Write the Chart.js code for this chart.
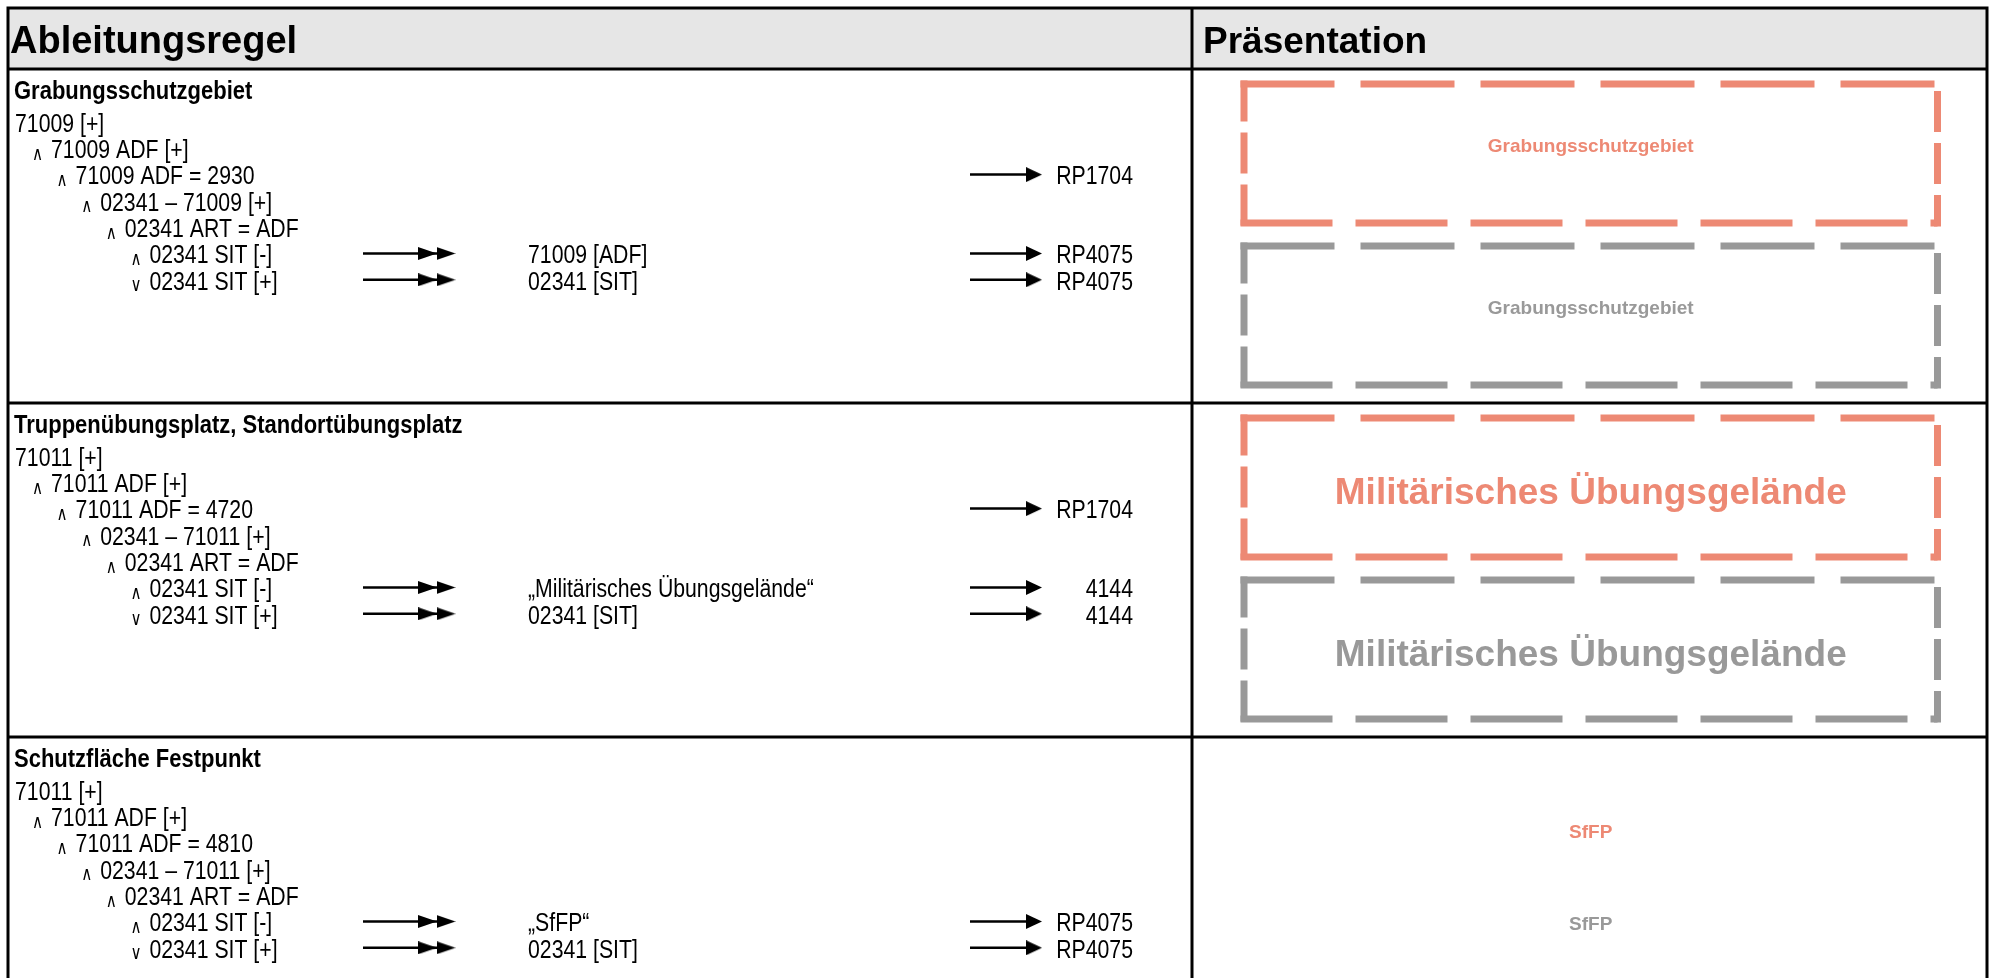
<!DOCTYPE html>
<html>
<head>
<meta charset="utf-8">
<script src="https://cdn.jsdelivr.net/npm/chart.js@4"></script>
<style>
  html, body { margin: 0; padding: 0; background: #fff; overflow: hidden; }
  canvas { display: block; }
</style>
</head>
<body>
<canvas id="ruleChart" width="1991" height="978"></canvas>
<script>
// --- data ---
const headers = ['Ableitungsregel', 'Präsentation'];
const sectionTitles = ['Grabungsschutzgebiet', 'Truppenübungsplatz, Standortübungsplatz', 'Schutzfläche Festpunkt'];
const ruleTexts = [
   ['71009 [+]', '71009 ADF [+]', '71009 ADF = 2930', '02341 – 71009 [+]', '02341 ART = ADF', '02341 SIT [-]', '02341 SIT [+]'],
   ['71011 [+]', '71011 ADF [+]', '71011 ADF = 4720', '02341 – 71011 [+]', '02341 ART = ADF', '02341 SIT [-]', '02341 SIT [+]'],
   ['71011 [+]', '71011 ADF [+]', '71011 ADF = 4810', '02341 – 71011 [+]', '02341 ART = ADF', '02341 SIT [-]', '02341 SIT [+]']
];
const ruleLevels = [0, 1, 2, 3, 4, 5, 5];
const ruleOperators = ['', '∧', '∧', '∧', '∧', '∧', '∨'];
const derivedRows = [5, 6];
const derivedTexts = [
   ['71009 [ADF]', '02341 [SIT]'],
   ['„Militärisches Übungsgelände“', '02341 [SIT]'],
   ['„SfFP“', '02341 [SIT]']
];
const signatureRows = [2, 5, 6];
const signatures = [
   ['RP1704', 'RP4075', 'RP4075'],
   ['RP1704', '4144', '4144'],
   ['', 'RP4075', 'RP4075']
];
const presentationLabels = ['Grabungsschutzgebiet', 'Militärisches Übungsgelände', 'SfFP'];
const presentationBoxed = [true, true, false];

// --- layout (pixels of the 1991x978 page) ---
const W = 1991, H = 978;
const LEFT = 8, RIGHT = 1987, TOP = 8, HEADER_BOTTOM = 69, COL_SPLIT = 1192, SECTION_H = 334;
const RED = '#ED8974', GREY = '#999999';
const BOX_X0 = 1244, BOX_X1 = 1937.5;
const SQUEEZE = 0.85;   // the rule column text is drawn narrow

function sectionTop(s) { return HEADER_BOTTOM + SECTION_H * s; }
function rowY(s, r)     { return sectionTop(s) + 56 + 26.3 * r; }
function opX(level)     { return 32 + 24.6 * (level - 1); }
function textX(level)   { return level === 0 ? 15 : opX(level) + 19; }

// arrow heads as small canvases, used as point styles
function headCanvas(w, h) {
   const c = document.createElement('canvas');
   c.width = w; c.height = h;
   const g = c.getContext('2d');
   g.fillStyle = '#000';
   g.beginPath(); g.moveTo(0, 0); g.lineTo(w, h / 2); g.lineTo(0, h); g.closePath(); g.fill();
   return c;
}
const doubleHead = headCanvas(19, 13);
const singleHead = headCanvas(16, 15);

function line(points, extra) {
   return Object.assign({
      data: points, showLine: true, borderColor: '#000', borderWidth: 3,
      pointRadius: 0, tension: 0, fill: false, borderCapStyle: 'butt'
   }, extra || {});
}

const datasets = [];

// table frame
datasets.push(line([{x: LEFT, y: H + 5}, {x: LEFT, y: TOP}, {x: RIGHT, y: TOP}, {x: RIGHT, y: H + 5}]));
datasets.push(line([{x: COL_SPLIT, y: TOP}, {x: COL_SPLIT, y: H + 5}]));
for (let s = 0; s < sectionTitles.length; s++) {
   datasets.push(line([{x: LEFT, y: sectionTop(s)}, {x: RIGHT, y: sectionTop(s)}]));
}

// arrows
sectionTitles.forEach((t, s) => {
   derivedRows.forEach(r => {
      const y = rowY(s, r) - 3;
      datasets.push(line([{x: 363, y}, {x: 427.5, y}, {x: 446, y}], {
         borderWidth: 2.5, pointStyle: [false, doubleHead, doubleHead], pointRadius: [0, 9, 9]
      }));
   });
   signatureRows.forEach((r, i) => {
      if (!signatures[s][i]) return;
      const y = rowY(s, r) - 3;
      datasets.push(line([{x: 970, y}, {x: 1034, y}], {
         borderWidth: 2.5, pointStyle: [false, singleHead], pointRadius: [0, 8]
      }));
   });
});

// dashed presentation boxes
function dashedBox(y0, y1, color) {
   const h = 3.5, st = {borderColor: color, borderWidth: 7};
   datasets.push(line([{x: BOX_X0 - h, y: y0}, {x: BOX_X1, y: y0}], Object.assign({borderDash: [94, 26]}, st)));
   datasets.push(line([{x: BOX_X0, y: y0 - h}, {x: BOX_X0, y: y1 + h}], Object.assign({borderDash: [41, 11]}, st)));
   datasets.push(line([{x: BOX_X0 - h, y: y1}, {x: BOX_X1, y: y1}], Object.assign({borderDash: [92, 23]}, st)));
   datasets.push(line([{x: BOX_X1, y: y0}, {x: BOX_X1, y: y1 + h}], Object.assign({borderDash: [41, 11], borderDashOffset: 45}, st)));
}
presentationBoxed.forEach((boxed, s) => {
   if (!boxed) return;
   dashedBox(sectionTop(s) + 15, sectionTop(s) + 154, RED);
   dashedBox(sectionTop(s) + 177, sectionTop(s) + 316, GREY);
});

// texts, placed through the scales
const textPlugin = {
   id: 'texts',
   beforeDatasetsDraw(chart) {
      const {ctx, scales: {x, y}} = chart;
      ctx.save();
      ctx.fillStyle = '#e6e6e6';
      ctx.fillRect(x.getPixelForValue(LEFT), y.getPixelForValue(TOP),
                   x.getPixelForValue(RIGHT) - x.getPixelForValue(LEFT),
                   y.getPixelForValue(HEADER_BOTTOM) - y.getPixelForValue(TOP));
      ctx.restore();
   },
   afterDatasetsDraw(chart) {
      const {ctx, scales: {x, y}} = chart;
      const put = (txt, px, py, font, opts) => {
         const o = Object.assign({color: '#000', align: 'left', base: 'middle', sx: 1}, opts);
         ctx.save();
         ctx.translate(x.getPixelForValue(px), y.getPixelForValue(py));
         ctx.scale(o.sx, 1);
         ctx.font = font;
         ctx.fillStyle = o.color;
         ctx.textAlign = o.align;
         ctx.textBaseline = o.base;
         ctx.fillText(txt, 0, 0);
         ctx.restore();
      };
      const body = '25px "Liberation Sans", Arial, sans-serif';
      const narrow = {sx: SQUEEZE};
      put(headers[0], 10, 53, 'bold 38px "Liberation Sans", Arial', {base: 'alphabetic'});
      put(headers[1], 1203, 53, 'bold 37px "Liberation Sans", Arial', {base: 'alphabetic'});

      sectionTitles.forEach((title, s) => {
         put(title, 14, sectionTop(s) + 23, 'bold 25px "Liberation Sans", Arial', {sx: 0.88});
         ruleTexts[s].forEach((txt, r) => {
            const lv = ruleLevels[r];
            if (ruleOperators[r]) {
               put(ruleOperators[r], opX(lv), rowY(s, r) + 8.5, '19px "DejaVu Sans"', {base: 'alphabetic', sx: 0.8});
            }
            put(txt, textX(lv), rowY(s, r), body, narrow);
         });
         derivedRows.forEach((r, i) => put(derivedTexts[s][i], 528, rowY(s, r), body, narrow));
         signatureRows.forEach((r, i) => {
            if (signatures[s][i]) put(signatures[s][i], 1133, rowY(s, r), body, {sx: SQUEEZE, align: 'right'});
         });

         const cx = (BOX_X0 + BOX_X1) / 2;
         if (presentationBoxed[s]) {
            const big = s === 1;
            const f = big ? 'bold 37px "Liberation Sans", Arial' : 'bold 19px "Liberation Sans", Arial';
            const dy = big ? 76 : 63;
            put(presentationLabels[s], cx, sectionTop(s) + 15 + dy, f, {color: RED, align: 'center'});
            put(presentationLabels[s], cx, sectionTop(s) + 177 + dy, f, {color: GREY, align: 'center'});
         } else {
            const f = 'bold 19px "Liberation Sans", Arial';
            put(presentationLabels[s], cx, sectionTop(s) + 96, f, {color: RED, align: 'center'});
            put(presentationLabels[s], cx, sectionTop(s) + 188, f, {color: GREY, align: 'center'});
         }
      });
   }
};

new Chart(document.getElementById('ruleChart'), {
   type: 'scatter',
   data: { datasets },
   options: {
      responsive: false,
      devicePixelRatio: 1,
      animation: false,
      events: [],
      layout: { padding: 0, autoPadding: false },
      plugins: { legend: { display: false }, tooltip: { enabled: false } },
      scales: {
         x: { type: 'linear', min: 0, max: W, display: false },
         y: { type: 'linear', min: 0, max: H, reverse: true, display: false }
      }
   },
   plugins: [textPlugin]
});
</script>
</body>
</html>
